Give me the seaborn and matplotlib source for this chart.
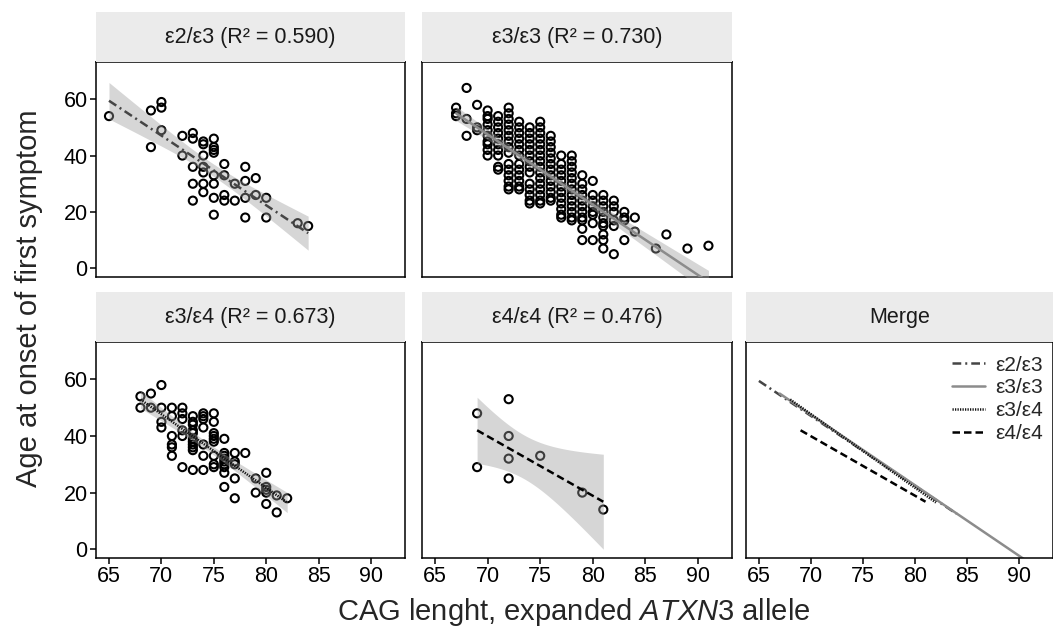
import numpy as np
import pandas as pd
import seaborn as sns
import matplotlib.pyplot as plt

W, H = 1053, 637

# e2/e3 carriers
e23_cag = [65, 69, 69, 70, 70, 70, 72, 72, 73, 73, 73, 73, 73,
           74, 74, 74, 74, 74, 74, 74, 75, 75, 75, 75, 75, 75, 75, 75,
           76, 76, 76, 76, 77, 77, 78, 78, 78, 78, 79, 79, 80, 80, 83, 84]
e23_age = [54, 56, 43, 59, 57, 49, 47, 40, 48, 46, 36, 30, 24,
           45, 44, 40, 36, 34, 30, 27, 46, 43, 42, 41, 33, 30, 25, 19,
           37, 33, 26, 24, 30, 24, 36, 31, 25, 18, 32, 26, 25, 18, 16, 15]

# e3/e3 carriers, ages listed per CAG length
e33_cag = [67, 68, 69, 70, 71, 72, 73, 74, 75, 76, 77, 78, 79, 80, 81, 82, 83, 84, 86, 87, 89, 91]
e33_age = [
    [57, 55, 54],
    [64, 53, 47],
    [58, 50, 49],
    [56, 54, 53, 51, 49, 47, 45, 44, 42, 40],
    [54, 52, 50, 48, 46, 44, 42, 40, 36, 35],
    [57, 55, 53, 51, 49, 47, 45, 43, 41, 37, 35, 33, 31, 29, 28],
    [52, 50, 48, 46, 44, 42, 40, 37, 35, 33, 31, 29, 28],
    [50, 48, 46, 44, 42, 40, 38, 36, 34, 30, 28, 26, 24, 23],
    [52, 50, 48, 46, 44, 42, 40, 38, 36, 34, 32, 30, 28, 26, 24, 23],
    [47, 45, 43, 41, 39, 37, 35, 33, 31, 29, 27, 25, 24],
    [40, 37, 35, 33, 31, 29, 27, 25, 23, 21, 19, 18],
    [40, 38, 36, 34, 32, 30, 28, 26, 24, 22, 20, 18, 17],
    [33, 30, 28, 26, 24, 22, 20, 18, 17, 14, 10],
    [31, 26, 24, 22, 20, 19, 16, 10],
    [26, 24, 22, 20, 18, 16, 15, 12, 10, 7],
    [24, 22, 20, 17, 15, 5],
    [20, 18, 17, 10],
    [18, 13],
    [7],
    [12],
    [7],
    [8],
]

# e3/e4 carriers, ages listed per CAG length
e34_cag = [68, 69, 70, 71, 72, 73, 74, 75, 76, 77, 78, 79, 80, 81, 82]
e34_age = [
    [54, 50],
    [55, 50],
    [58, 50, 45, 43],
    [50, 47, 40, 37, 36, 33],
    [50, 48, 46, 42, 40, 29],
    [47, 45, 44, 42, 41, 39, 38, 37, 36, 35, 28],
    [48, 47, 46, 43, 37, 33, 28],
    [48, 45, 41, 40, 39, 38, 33, 30, 29],
    [39, 34, 33, 32, 31, 30, 29, 27, 22],
    [34, 31, 30, 25, 18],
    [34],
    [25, 20],
    [27, 22, 21, 20, 16],
    [19, 13],
    [18],
]

# e4/e4 carriers
e44_cag = [69, 69, 72, 72, 72, 72, 75, 79, 81]
e44_age = [48, 29, 53, 40, 32, 25, 33, 20, 14]

genotypes = ["ε2/ε3", "ε3/ε3", "ε3/ε4", "ε4/ε4"]
r2_text = ["0.590", "0.730", "0.673", "0.476"]
x_ticks = [65, 70, 75, 80, 85, 90]
y_ticks = [0, 20, 40, 60]

line_styles = {
    "ε2/ε3": dict(color="#454545", dashes=(3.5, 1.6, 0.8, 1.6)),
    "ε3/ε3": dict(color="#8c8c8c", linestyle="-"),
    "ε3/ε4": dict(color="#111111", dashes=(0.5, 0.5)),
    "ε4/ε4": dict(color="black", dashes=(3.0, 1.6)),
}


def expand(cags, ages):
    xs = [c for c, a in zip(cags, ages) for _ in a]
    ys = [v for a in ages for v in a]
    return xs, ys


def t975(df):
    # Cornish-Fisher expansion of the Student t quantile
    z = 1.959964
    return (z + (z ** 3 + z) / (4 * df) + (5 * z ** 5 + 16 * z ** 3 + 3 * z) / (96 * df ** 2)
            + (3 * z ** 7 + 19 * z ** 5 + 17 * z ** 3 - 15 * z) / (384 * df ** 3))


def lm_band(ax, data):
    x = data["cag"].to_numpy(float)
    y = data["age"].to_numpy(float)
    n = len(x)
    slope, icpt = np.polyfit(x, y, 1)
    grid = np.linspace(x.min(), x.max(), 100)
    resid = y - (icpt + slope * x)
    s = np.sqrt(resid @ resid / (n - 2))
    sxx = ((x - x.mean()) ** 2).sum()
    se = s * np.sqrt(1 / n + (grid - x.mean()) ** 2 / sxx)
    fit = icpt + slope * grid
    half = t975(n - 2) * se
    ax.fill_between(grid, fit - half, fit + half, color="#999999", alpha=0.4, lw=0, zorder=3)


frames = []
for g, (cx, ay) in zip(genotypes, [(e23_cag, [[a] for a in e23_age]), (e33_cag, e33_age),
                                   (e34_cag, e34_age), (e44_cag, [[a] for a in e44_age])]):
    xs, ys = expand(cx, ay)
    frames.append(pd.DataFrame({"cag": xs, "age": ys, "genotype": g}))
data = pd.concat(frames, ignore_index=True)

sns.set_style("white")
plt.rcParams["font.family"] = ["Liberation Sans", "DejaVu Sans"]
plt.rcParams["mathtext.fontset"] = "custom"
plt.rcParams["mathtext.rm"] = "Liberation Sans"
plt.rcParams["mathtext.it"] = "Liberation Sans:italic"

fig = plt.figure(figsize=(W / 100, H / 100), dpi=100)


def rect(l, t, r, b):
    return [l / W, 1 - b / H, (r - l) / W, (b - t) / H]


cols = [(96, 405), (422, 732), (746, 1053)]
rows = [(62, 277), (342, 558)]
slots = [(0, 0), (0, 1), (1, 0), (1, 1), (1, 2)]
titles = [f"{g} (R² = {r})" for g, r in zip(genotypes, r2_text)] + ["Merge"]

axes = []
for k, (ri, ci) in enumerate(slots):
    l, r = cols[ci]
    t, b = rows[ri]
    ax = fig.add_axes(rect(l, t, r, b))
    strip = fig.add_axes(rect(l, t - 50, r, t))
    strip.set_facecolor("#EBEBEB")
    strip.set_xticks([])
    strip.set_yticks([])
    for sp in strip.spines.values():
        sp.set_visible(False)
    strip.text(0.5, 0.5, titles[k], ha="center", va="center", fontsize=15.5, color="#1A1A1A",
               transform=strip.transAxes)

    ax.set_xlim(63.76, 93.24)
    ax.set_ylim(-3.1, 73.2)
    ax.set_xticks(x_ticks)
    ax.set_yticks(y_ticks)
    for sp in ax.spines.values():
        sp.set_visible(True)
        sp.set_color("black")
        sp.set_linewidth(1.1)
    ax.tick_params(direction="out", length=4, width=1.1, colors="black", labelsize=15.5, pad=2,
                   left=(ci == 0), bottom=(ri == 1 or ci == 2),
                   labelleft=(ci == 0), labelbottom=(ri == 1 or ci == 2))
    axes.append(ax)

for ax, g in zip(axes[:4], genotypes):
    sub = data[data["genotype"] == g]
    sns.scatterplot(sub, x="cag", y="age", ax=ax, marker="o", s=34, color="black",
                    facecolor="none", edgecolor="black", linewidth=1.5, zorder=2)
    lm_band(ax, sub)
    sns.regplot(sub, x="cag", y="age", ax=ax, scatter=False, ci=None, truncate=True,
                line_kws=dict(lw=1.8, zorder=4, **line_styles[g]))
    ax.set_xlabel("")
    ax.set_ylabel("")

merge = axes[4]
for g in genotypes:
    sub = data[data["genotype"] == g]
    sns.regplot(sub, x="cag", y="age", ax=merge, scatter=False, ci=None, truncate=True,
                label=g, line_kws=dict(lw=1.8, **line_styles[g]))
merge.set_xlabel("")
merge.set_ylabel("")
merge.legend(loc="upper right", bbox_to_anchor=(1.0, 0.985), frameon=False, fontsize=15,
             handlelength=1.6, labelspacing=0.18, borderaxespad=0.1, handletextpad=0.45)

fig.text(574 / W, 1 - 612 / H, "CAG lenght, expanded $\\mathit{ATXN3}$ allele",
         ha="center", va="center", fontsize=21)
fig.text(29 / W, 1 - 298 / H, "Age at onset of first symptom", ha="center", va="center",
         rotation=90, fontsize=21)

fig.savefig("out.png", dpi=100)
